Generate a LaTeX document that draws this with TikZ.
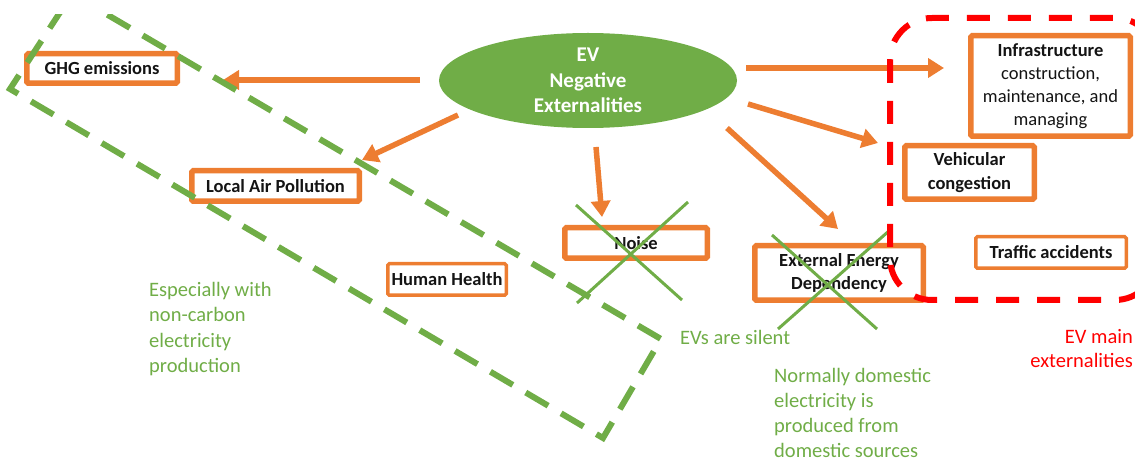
\documentclass[tikz,border=0pt]{standalone}
\usepackage{fontspec}
\setmainfont{Carlito}
\usetikzlibrary{shapes.geometric,arrows.meta}
\definecolor{exorange}{HTML}{ED7D31}
\definecolor{exgreen}{HTML}{70AD47}
\definecolor{exred}{HTML}{FF0000}
\begin{document}
\begin{tikzpicture}[x=1pt,y=-1pt,
  box/.style={draw=exorange, line width=5.5pt, fill=white, rounded corners=1.5pt,
    inner sep=0pt, align=center, text=black!92,
    font=\fontsize{18.5}{23.5}\selectfont\bfseries},
  thinbox/.style={box, line width=3.5pt},
  arr/.style={draw=exorange, line width=5.5pt, -{Triangle[length=16pt,width=19pt]}},
  cross/.style={draw=exgreen, line width=3pt},
  note/.style={text=exgreen, align=left, anchor=north west, inner sep=0pt,
    font=\fontsize{20.5}{25.5}\selectfont},
  greendash/.style={draw=exgreen, line width=6pt, dash pattern=on 26pt off 15pt},
  reddash/.style={draw=exred, line width=6pt, dash pattern=on 23pt off 18pt},
]
\useasboundingbox (0,0) rectangle (1135,462);

% central ellipse
\node[ellipse, fill=exgreen, minimum width=298pt, minimum height=95pt, inner sep=0pt,
  text=white, align=center, font=\fontsize{21}{25.5}\selectfont\bfseries]
  (ev) at (588,80.5) {EV\\Negative\\Externalities};

% externality boxes
\node[box, minimum width=150.5pt, minimum height=29.5pt] (ghg) at (102,68.5) {GHG emissions};
\node[box, minimum width=167.5pt, minimum height=30.5pt] (air) at (275.5,186) {Local Air Pollution};
\node[thinbox, minimum width=118.5pt, minimum height=31.5pt] (health) at (447,279.5) {Human Health};
\node[box, minimum width=142.5pt, minimum height=30.5pt] (noise) at (636,243) {Noise};
\node[box, minimum width=168.5pt, minimum height=54.5pt] (energy) at (839,273) {External Energy\\Dependency};
\node[box, minimum width=159.5pt, minimum height=100.5pt, font=\fontsize{18.5}{23}\selectfont]
  (infra) at (1050.5,86) {\textbf{Infrastructure}\\construction,\\maintenance, and\\managing};
\node[box, minimum width=129.5pt, minimum height=53.5pt] (cong) at (969.5,172.5) {Vehicular\\congestion};
\node[thinbox, minimum width=150.5pt, minimum height=31.5pt] (traffic) at (1051,252.5) {Traffic accidents};

% arrow ends
\coordinate (evGhg) at (420,80);    \coordinate (ghgIn) at (223,80);
\coordinate (evAir) at (458,115);   \coordinate (airIn) at (362,160);
\coordinate (evNoise) at (596,147); \coordinate (noiseIn) at (602,217);
\coordinate (evInfra) at (746,68);  \coordinate (infraIn) at (944,68);
\coordinate (evCong) at (748,104);  \coordinate (congIn) at (878,143);
\coordinate (evEnergy) at (727,128);\coordinate (energyIn) at (838,229);

\draw[arr] (evGhg) -- (ghgIn);
\draw[arr] (evAir) -- (airIn);
\draw[arr] (evNoise) -- (noiseIn);
\draw[arr] (evInfra) -- (infraIn);
\draw[arr] (evCong) -- (congIn);
\draw[arr] (evEnergy) -- (energyIn);

% crossed-out externalities
\draw[cross] (576,205) -- (682,300);
\draw[cross] (688,202) -- (577,303);
\draw[cross] (772,235) -- (877,329);
\draw[cross] (890,230) -- (778,329);

% green dashed group
\begin{scope}
  \clip (0,15) rectangle (1135,462);
  \draw[greendash] (72,-6) -- (661,339) -- (603,438) -- (10,89) -- cycle;
\end{scope}

% red dashed group
\begin{scope}
  \clip (0,0) rectangle (1135,462);
  \draw[reddash, rounded corners=42pt] (890,18) rectangle (1157,300);
\end{scope}

% annotations
\node[note] (noteCarbon) at (149,282) {Especially with\\non-carbon\\electricity\\production};
\node[note] (noteSilent) at (680,330) {EVs are silent};
\node[note, font=\fontsize{20.5}{25}\selectfont] (noteDomestic) at (774,368) {Normally domestic\\electricity is\\produced from\\domestic sources};
\node[note, text=exred, align=right, anchor=north east, font=\fontsize{20.5}{24}\selectfont]
  (noteMain) at (1133,329) {EV main\\externalities};
\end{tikzpicture}
\end{document}
